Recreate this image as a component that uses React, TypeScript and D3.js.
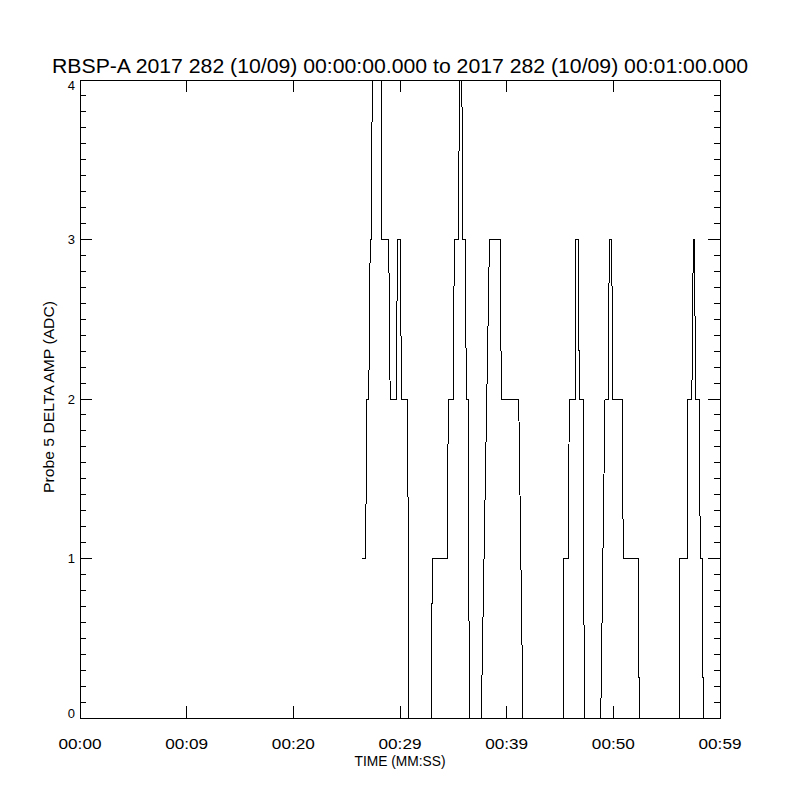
import React from "react";
import * as d3 from "d3";

const TITLE = "RBSP-A 2017 282 (10/09) 00:00:00.000 to 2017 282 (10/09) 00:01:00.000";
const X_TITLE = "TIME (MM:SS)";
const Y_TITLE = "Probe 5 DELTA AMP (ADC)";

const xTickValues = [0, 10, 20, 30, 40, 50, 60];
const xTickLabels = ["00:00", "00:09", "00:20", "00:29", "00:39", "00:50", "00:59"];
const yTickValues = [0, 1, 2, 3, 4];
const yTickLabels = ["0", "1", "2", "3", "4"];

// time in seconds since 00:00:00
const times = [
  26.47, 26.78, 26.88, 27.07, 27.21, 27.31, 27.4, 28.22, 28.31, 28.94, 29.08, 29.69, 29.74, 30.07, 30.11, 30.72, 30.82,
  32.93, 33.03, 34.43, 34.53, 35.0, 35.09, 35.5, 35.56, 35.8, 35.88, 36.12, 36.22, 36.4, 36.5,
  37.62, 38.39, 39.4, 39.5, 41.13, 41.53,
  45.31, 45.36, 45.78, 45.87, 46.43, 46.47, 46.72, 46.81, 47.18, 47.28,
  48.82, 49.22, 49.53, 49.62, 49.85, 49.94, 50.84, 50.93, 52.34, 52.43,
  56.18, 56.23, 56.91, 56.95, 57.36, 57.5, 57.59, 57.73, 58.06, 58.15, 58.34, 58.43, 59.95,
];
const values = [
  1, 1, 2, 2, 3, 3, 4, 4, 3, 3, 2, 2, 3, 3, 2, 2, 0,
  0, 1, 1, 2, 2, 3, 3, 4, 4, 3, 3, 2, 2, 0,
  0, 3, 3, 2, 2, 0,
  0, 1, 1, 2, 2, 3, 3, 2, 2, 0,
  0, 2, 2, 3, 3, 2, 2, 1, 1, 0,
  0, 1, 1, 2, 2, 3, 3, 2, 2, 1, 1, 0, 0,
];

const W = 800;
const H = 800;
const L = 80;
const R = 720;
const T = 80;
const B = 718;
const FONT = "'Liberation Sans', 'DejaVu Sans', sans-serif";

export default function App() {
  const x = d3.scaleLinear().domain([0, 60]).range([L, R]);
  const y = d3.scaleLinear().domain([0, 4]).range([B, T]);
  const pts = times.map((t, i) => [t, values[i]] as [number, number]);
  const line = d3
    .line<[number, number]>()
    .x((d) => x(d[0]))
    .y((d) => y(d[1]));
  const minor = d3.range(0, 40).map((i) => i / 10).filter((v) => Math.abs(v - Math.round(v)) > 1e-6);
  const yLabelBase = (v: number) => Math.min(B, Math.max(T + 10, y(v) + 4.5));

  return (
    <svg
      width={W}
      height={H}
      style={{ position: "absolute", left: 0, top: 0, background: "#fff" }}
      fontFamily={FONT}
    >
      <rect x={0} y={0} width={W} height={H} fill="#fff" />
      <defs>
        <clipPath id="plotclip">
          <rect x={L} y={T} width={R - L} height={B - T} />
        </clipPath>
      </defs>
      <g shapeRendering="crispEdges" stroke="#000" strokeWidth={1}>
        <rect x={L} y={T} width={R - L} height={B - T} fill="none" />
        {xTickValues.map((v) => (
          <g key={"xt" + v}>
            <line x1={x(v)} x2={x(v)} y1={B} y2={B - 12} />
            <line x1={x(v)} x2={x(v)} y1={T} y2={T + 12} />
          </g>
        ))}
        {yTickValues.map((v) => (
          <g key={"yt" + v}>
            <line x1={L} x2={L + 12} y1={y(v)} y2={y(v)} />
            <line x1={R} x2={R - 12} y1={y(v)} y2={y(v)} />
          </g>
        ))}
        {minor.map((v) => (
          <g key={"ym" + v}>
            <line x1={L} x2={L + 6} y1={y(v)} y2={y(v)} />
            <line x1={R} x2={R - 6} y1={y(v)} y2={y(v)} />
          </g>
        ))}
        <path d={line(pts) || ""} fill="none" clipPath="url(#plotclip)" />
      </g>
      <text x={400} y={73} fontSize={20} textAnchor="middle" textLength={696} lengthAdjust="spacingAndGlyphs">
        {TITLE}
      </text>
      {xTickValues.map((v, i) => (
        <text
          key={"xl" + v}
          x={x(v)}
          y={749}
          fontSize={15}
          textAnchor="middle"
          textLength={43}
          lengthAdjust="spacingAndGlyphs"
        >
          {xTickLabels[i]}
        </text>
      ))}
      {yTickValues.map((v, i) => (
        <text key={"yl" + v} x={75} y={yLabelBase(v)} fontSize={13} textAnchor="end">
          {yTickLabels[i]}
        </text>
      ))}
      <text x={400} y={766} fontSize={14} textAnchor="middle" textLength={91} lengthAdjust="spacingAndGlyphs">
        {X_TITLE}
      </text>
      <text
        transform={`translate(54, 397) rotate(-90)`}
        fontSize={14}
        textAnchor="middle"
        textLength={192}
        lengthAdjust="spacingAndGlyphs"
      >
        {Y_TITLE}
      </text>
    </svg>
  );
}
